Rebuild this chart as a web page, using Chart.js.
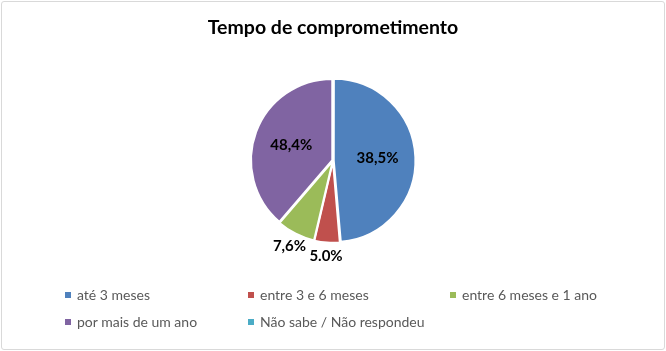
<!DOCTYPE html>
<html>
<head>
<meta charset="utf-8">
<script src="https://cdn.jsdelivr.net/npm/chart.js@4"></script>
<style>
  html, body { margin: 0; padding: 0; background: #fff; }
  #wrap { position: relative; width: 666px; height: 351px; }
  #frame { position: absolute; left: 1px; top: 1px; width: 662px; height: 347px; border: 1px solid #d9d9d9; border-radius: 3px; }
  #title { position: absolute; left: 0; width: 666px; top: 15px; text-align: center; font: bold 19.5px Lato, sans-serif; color: #000; }
  canvas { position: absolute; left: 0; top: 0; }
  .leg { position: absolute; font: 14px Lato, sans-serif; color: #595959; white-space: nowrap; }
  .leg i { display: inline-block; width: 6px; height: 6px; margin-right: 6px; vertical-align: 2px; }
</style>
</head>
<body>
<div id="wrap">
  <div id="frame"></div>
  <canvas id="chart" width="666" height="351"></canvas>
  <div id="title">Tempo de comprometimento</div>
  <div id="legend"></div>
</div>
<script>
const categories = ["até 3 meses", "entre 3 e 6 meses", "entre 6 meses e 1 ano", "por mais de um ano", "Não sabe / Não respondeu"]
const shares = [48.4, 5.0, 7.6, 38.5, 0]
const shareLabels = ["38,5%", "5.0%", "7,6%", "48,4%", ""]
const colors = ["#4f81bd", "#c0504d", "#9bbb59", "#8064a2", "#4bacc6"]

// legend placed in a grid like the original
const legendCols = [65, 248, 450]
const legendRows = [286, 313]
const legendEl = document.getElementById("legend")
categories.forEach((name, i) => {
  const d = document.createElement("div")
  d.className = "leg"
  d.style.left = legendCols[i % 3] + "px"
  d.style.top = legendRows[Math.floor(i / 3)] + "px"
  d.innerHTML = `<i style="background:${colors[i]}"></i>${name}`
  legendEl.appendChild(d)
})

const sliceLabels = {
  id: "sliceLabels",
  afterDatasetsDraw(chart) {
    const ctx = chart.ctx
    const meta = chart.getDatasetMeta(0)
    ctx.save()
    ctx.font = "bold 15px Lato, sans-serif"
    ctx.fillStyle = "#000"
    ctx.textAlign = "center"
    ctx.textBaseline = "middle"
    meta.data.forEach((arc, i) => {
      if (!shareLabels[i]) return
      const mid = (arc.startAngle + arc.endAngle) / 2
      const small = shares[i] < 10
      const r = small ? arc.outerRadius + 15 : arc.outerRadius * 0.55
      ctx.fillText(shareLabels[i], arc.x + Math.cos(mid) * r, arc.y + Math.sin(mid) * r)
    })
    ctx.restore()
  }
}

new Chart("chart", {
  type: "pie",
  data: {
    labels: categories,
    datasets: [{
      data: shares,
      backgroundColor: colors,
      borderColor: "#fff",
      borderWidth: 2,
      offset: 3,
      hoverOffset: 0,
      radius: 81
    }]
  },
  options: {
    responsive: false,
    animation: false,
    layout: { padding: { top: 59, bottom: 89 } },
    plugins: {
      legend: { display: false },
      title: { display: false },
      tooltip: { enabled: false }
    }
  },
  plugins: [sliceLabels]
})
</script>
</body>
</html>
